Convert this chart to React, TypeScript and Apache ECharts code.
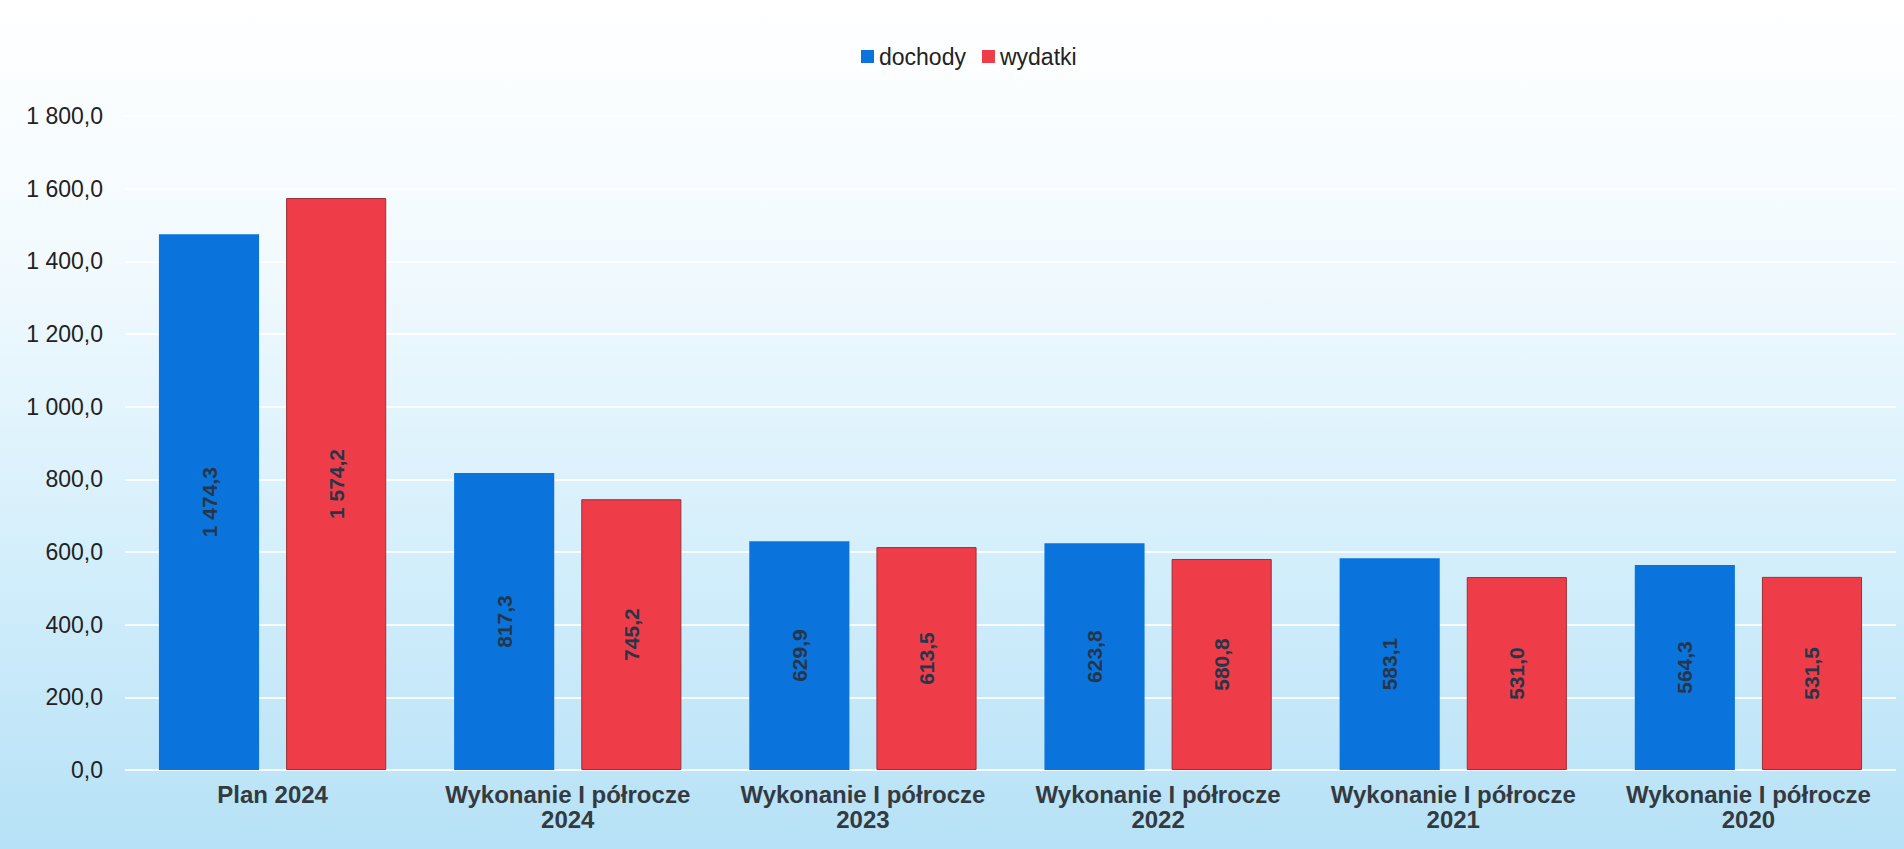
import React, { useEffect, useRef } from "react";
import * as echarts from "echarts";

const categories = [
  "Plan 2024",
  "Wykonanie I półrocze\n2024",
  "Wykonanie I półrocze\n2023",
  "Wykonanie I półrocze\n2022",
  "Wykonanie I półrocze\n2021",
  "Wykonanie I półrocze\n2020",
];
const dochody = [1474.3, 817.3, 629.9, 623.8, 583.1, 564.3];
const wydatki = [1574.2, 745.2, 613.5, 580.8, 531.0, 531.5];
const seriesNames = ["dochody", "wydatki"];

const fmt = (v: number) => {
  const s = v.toFixed(1);
  const [i, d] = s.split(".");
  return i.replace(/\B(?=(\d{3})+(?!\d))/g, " ") + "," + d;
};

export default function App() {
  const ref = useRef<HTMLDivElement>(null);
  useEffect(() => {
    if (!ref.current) return;
    const chart = echarts.init(ref.current, null, { renderer: "svg" });
    const label = {
      show: true,
      position: "inside",
      rotate: 90,
      formatter: (p: any) => fmt(p.value),
      fontFamily: "Liberation Sans, Arial, sans-serif",
      fontSize: 21,
      fontWeight: "bold",
      color: "#25364a",
    };
    chart.setOption({
      animation: false,
      backgroundColor: new echarts.graphic.LinearGradient(0, 0, 0, 1, [
        { offset: 0, color: "#ffffff" },
        { offset: 0.3, color: "#f2fafe" },
        { offset: 0.7, color: "#d0edfb" },
        { offset: 1, color: "#b6e1f6" },
      ]),
      legend: {
        top: 40,
        left: 856,
        itemWidth: 13,
        itemHeight: 13,
        itemGap: 16,
        itemStyle: { borderColor: "#555", borderWidth: 0 },
        icon: "rect",
        textStyle: { fontFamily: "Liberation Sans, Arial, sans-serif", fontSize: 23, color: "#222" },
        data: seriesNames,
      },
      grid: { left: 125, right: 8, top: 116, bottom: 79, containLabel: false },
      xAxis: {
        type: "category",
        data: categories,
        axisLine: { show: false },
        axisTick: { show: false },
        axisLabel: {
          interval: 0,
          margin: 12,
          lineHeight: 25,
          fontFamily: "Liberation Sans, Arial, sans-serif",
          fontWeight: "bold",
          fontSize: 24,
          color: "#333a40",
        },
      },
      yAxis: {
        type: "value",
        min: 0,
        max: 1800,
        interval: 200,
        axisLine: { show: false },
        axisTick: { show: false },
        splitLine: { lineStyle: { color: "rgba(255,255,255,0.85)", width: 2 } },
        axisLabel: {
          formatter: (v: number) => fmt(v),
          margin: 22,
          fontFamily: "Liberation Sans, Arial, sans-serif",
          fontSize: 23,
          color: "#222",
        },
      },
      series: [
        {
          name: seriesNames[0],
          type: "bar",
          data: dochody,
          barGap: "27%",
          barCategoryGap: "23%",
          itemStyle: { color: "#0a74dc" },
          label,
        },
        {
          name: seriesNames[1],
          type: "bar",
          data: wydatki,
          itemStyle: { color: "#ee3d48", borderColor: "#9a3036", borderWidth: 1 },
          label,
        },
      ],
    });
    return () => chart.dispose();
  }, []);
  return (
    <div
      ref={ref}
      style={{ position: "fixed", left: 0, top: 0, width: 1904, height: 849 }}
    />
  );
}
